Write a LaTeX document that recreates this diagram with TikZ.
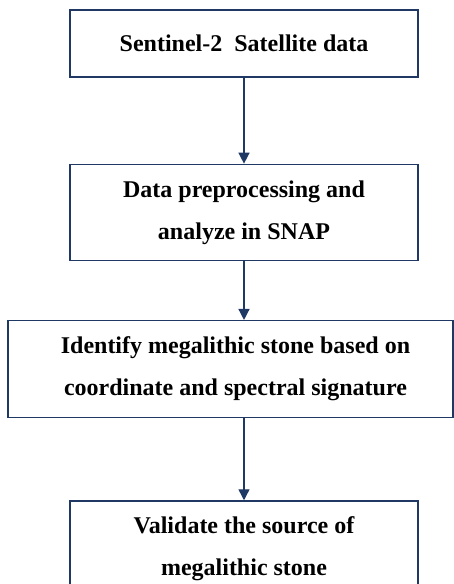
\documentclass[tikz,border=0pt]{standalone}
\usepackage{fontspec}
\setmainfont{Liberation Serif}
\usetikzlibrary {positioning,
                 arrows.meta}
\definecolor{navy}{HTML}{1F3864}

\begin{document}
\begin{tikzpicture}[box/.style={draw=navy, line width=1.3pt, align=center, inner sep=0pt,
                                font=\fontsize{24}{42}\selectfont\bfseries},
                    arrow/.style={navy, line width=1.4pt, -{Triangle[width=11pt,length=11pt]}}]
    \clip (0pt,0pt) rectangle (454pt,-584pt);
    \useasboundingbox (0pt,0pt) rectangle (454pt,-584pt);

    % Satellitendaten
    \node[box, minimum width=348pt, minimum height=67pt] (sat) at (244pt,-43.5pt)
        {Sentinel-2\ \ Satellite data};

    % Vorverarbeitung
    \node[box, minimum width=348pt, minimum height=96pt,
          below=86pt of sat] (prep) {Data preprocessing and\\analyze in SNAP};

    % Identifizieren
    \node[box, minimum width=445pt, minimum height=97pt,
          below=59pt of prep, xshift=-13.5pt] (ident)
        {\hspace*{10pt}Identify megalithic stone based on\\\hspace*{10pt}coordinate and spectral signature};

    % Validieren
    \node[box, minimum width=348pt, minimum height=96pt,
          below=82pt of ident, xshift=13.5pt] (valid) {Validate the source of\\megalithic stone};

    \draw[arrow] (sat) -- (prep);
    \draw[arrow] (prep.south) -- (prep.south |- ident.north);
    \draw[arrow] (valid.north |- ident.south) -- (valid.north);

\end{tikzpicture}
\end{document}
